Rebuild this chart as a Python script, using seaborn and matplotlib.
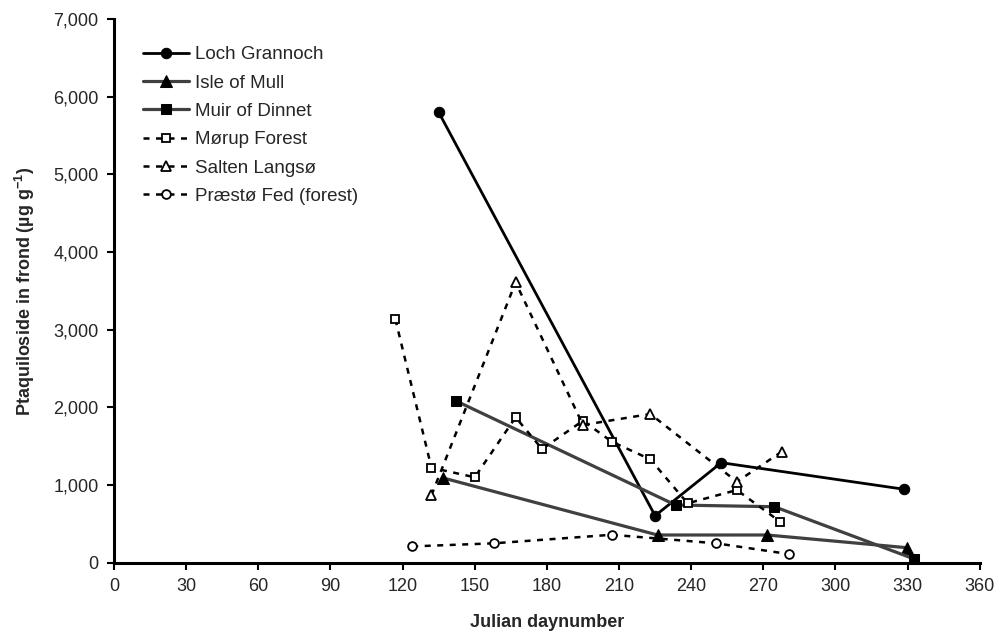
import matplotlib
matplotlib.use("Agg")
import matplotlib.pyplot as plt
import seaborn as sns
import pandas as pd
from matplotlib import font_manager

# ---- data ----
loch_day = [135, 225, 252.5, 328.7]
loch_val = [5800, 605, 1288, 945]

mull_day = [137, 226, 271.6, 329.8]
mull_val = [1090, 357, 357, 193]

muir_day = [142, 233.5, 274.6, 332.8]
muir_val = [2086, 743, 721, 48]

morup_day = [117, 132, 150, 167, 178, 195, 207, 223, 238.5, 259, 277]
morup_val = [3134, 1223, 1100, 1872, 1464, 1828, 1558, 1331, 765, 936, 528]

salten_day = [132, 167, 195, 223, 259, 277.7]
salten_val = [870, 3610, 1773, 1915, 1043, 1430]

praesto_day = [124, 158, 207, 250.4, 280.5]
praesto_val = [210, 250, 360, 250, 112]

series_names = ["Loch Grannoch", "Isle of Mull", "Muir of Dinnet",
                "Mørup Forest", "Salten Langsø", "Præstø Fed (forest)"]

x_ticks = list(range(0, 361, 30))
y_ticks = list(range(0, 7001, 1000))

sns.set_theme(style="ticks")
fams = [f.name for f in font_manager.fontManager.ttflist]
base = "Liberation Sans" if "Liberation Sans" in fams else "DejaVu Sans"
narrow = "Liberation Sans Narrow" if "Liberation Sans Narrow" in fams else base
plt.rcParams['font.family'] = [base, "DejaVu Sans"]
plt.rcParams['mathtext.fontset'] = 'custom'
plt.rcParams['mathtext.rm'] = base
plt.rcParams['mathtext.bf'] = base + ":bold"

fig = plt.figure(figsize=(10.02, 6.37), dpi=100)
ax = fig.add_axes([0.1138, 0.1166, 0.864, 0.8536])

gray = "#404040"
dash = (0, (2.4, 2.6))
specs = [
    (loch_day, loch_val, dict(color="black", lw=2.0, ls="-", marker="o", ms=7.5,
                             mfc="black", mec="black")),
    (mull_day, mull_val, dict(color=gray, lw=2.3, ls="-", marker="^", ms=8,
                             mfc="black", mec="black")),
    (muir_day, muir_val, dict(color=gray, lw=2.3, ls="-", marker="s", ms=7.5,
                             mfc="black", mec="black")),
    (morup_day, morup_val, dict(color="black", lw=1.8, ls=dash, marker="s", ms=6.3,
                               mfc="white", mec="black", mew=1.3)),
    (salten_day, salten_val, dict(color="black", lw=1.8, ls=dash, marker="^", ms=6.8,
                                 mfc="white", mec="black", mew=1.3)),
    (praesto_day, praesto_val, dict(color="black", lw=1.8, ls=dash, marker="o", ms=6.3,
                                   mfc="white", mec="black", mew=1.3)),
]

for (d, v, kw), name in zip(specs, series_names):
    df = pd.DataFrame({"day": d, "val": v})
    sns.lineplot(data=df, x="day", y="val", ax=ax, sort=False, estimator=None,
                 label=name, color=kw.pop("color"), linewidth=kw.pop("lw"),
                 linestyle=kw.pop("ls"), markersize=kw.pop("ms"),
                 markerfacecolor=kw.pop("mfc"), markeredgecolor=kw.pop("mec"),
                 **kw)

ax.set_xlim(0, 360)
ax.set_ylim(0, 7000)
ax.set_xticks(x_ticks)
ax.set_yticks(y_ticks)
ax.set_yticklabels([f"{t:,}" for t in y_ticks], fontsize=13)
ax.set_xticklabels([str(t) for t in x_ticks], fontsize=13, family=[narrow, "DejaVu Sans"])
ax.tick_params(direction="out", length=5, width=1.5, color="black", pad=6)

for s in ["top", "right"]:
    ax.spines[s].set_visible(False)
for s in ["left", "bottom"]:
    ax.spines[s].set_linewidth(2.2)
    ax.spines[s].set_color("black")

ax.set_xlabel("Julian daynumber", fontsize=13, fontweight="bold",
              family=[narrow, "DejaVu Sans"], labelpad=14)
ax.set_ylabel(r"Ptaquiloside in frond (µg g$^{\mathbf{-1}}$)", fontsize=13,
              fontweight="bold", labelpad=12)

leg = ax.legend(loc="upper left", bbox_to_anchor=(0.02, 0.971), frameon=False,
                fontsize=13.5, handlelength=2.5, handletextpad=0.3,
                labelspacing=0.6, borderaxespad=0.2)

fig.savefig("out.png", dpi=100)
